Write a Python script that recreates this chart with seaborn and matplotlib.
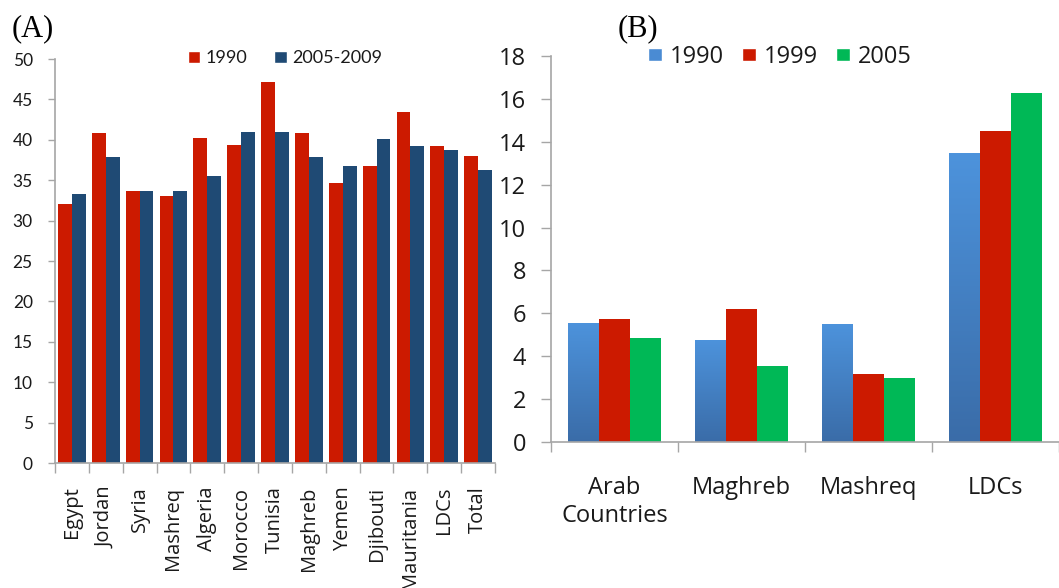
import numpy as np
import pandas as pd
import matplotlib
matplotlib.use("Agg")
import matplotlib.pyplot as plt
from matplotlib.patches import Patch
from matplotlib.colors import LinearSegmentedColormap
import seaborn as sns

# Panel A: share by country / region, two periods
countries = ["Egypt", "Jordan", "Syria", "Mashreq", "Algeria", "Morocco", "Tunisia",
             "Maghreb", "Yemen", "Djibouti", "Mauritania", "LDCs", "Total"]
share_1990 = [32.0, 40.8, 33.7, 33.1, 40.2, 39.3, 47.1, 40.8, 34.6, 36.8, 43.5, 39.2, 38.0]
share_2005_2009 = [33.3, 37.9, 33.7, 33.7, 35.5, 41.0, 41.0, 37.9, 36.7, 40.1, 39.2, 38.7, 36.3]
periods_a = ["1990", "2005-2009"]

# Panel B: regional values for three years
regions = ["Arab\nCountries", "Maghreb", "Mashreq", "LDCs"]
gap_1990 = [5.55, 4.75, 5.5, 13.45]
gap_1999 = [5.75, 6.2, 3.2, 14.5]
gap_2005 = [4.85, 3.55, 3.0, 16.25]
years_b = ["1990", "1999", "2005"]

RED = "#cc1a00"
NAVY = "#1f4a74"
BLUE_TOP = "#4d93dc"
BLUE_BOT = "#3a6ca8"
GREEN = "#00b856"
SPINE = "#a6a6a6"
TXT = "#1a1a1a"

sns.set_style("ticks")
plt.rcParams["font.family"] = ["Open Sans", "DejaVu Sans"]

df_a = pd.DataFrame({
    "country": countries * 2,
    "value": share_1990 + share_2005_2009,
    "period": [periods_a[0]] * len(countries) + [periods_a[1]] * len(countries),
})
df_b = pd.DataFrame({
    "region": regions * 3,
    "value": gap_1990 + gap_1999 + gap_2005,
    "year": sum([[y] * len(regions) for y in years_b], []),
})

W, H = 1059, 588
fig = plt.figure(figsize=(W / 100, H / 100), dpi=100)

# ---------------- Panel A ----------------
ax_a = fig.add_axes([55 / W, (H - 463) / H, 440 / W, 404 / H])
sns.barplot(data=df_a, x="country", y="value", hue="period", order=countries,
            hue_order=periods_a, palette=[RED, NAVY], saturation=1, width=0.82,
            linewidth=0, legend=False, ax=ax_a)
ax_a.set_xlim(-0.5, len(countries) - 0.5)
ax_a.set_ylim(0, 50)
ax_a.set_xlabel("")
ax_a.set_ylabel("")
ax_a.set_yticks(np.arange(0, 51, 5), labels=[str(v) for v in range(0, 51, 5)],
                fontsize=12.5, fontfamily="Lato", color=TXT)
ax_a.set_xticks(np.arange(len(countries) + 1) - 0.5, labels=[])
ax_a.set_xticks(np.arange(len(countries)), labels=countries, minor=True,
                rotation=90, ha="center", va="top", fontsize=14.5,
                fontfamily="Open Sans", color=TXT)
ax_a.tick_params(axis="y", length=5, width=1, color=SPINE, pad=11)
ax_a.tick_params(axis="x", which="major", length=7, width=1, color=SPINE)
ax_a.tick_params(axis="x", which="minor", length=0, pad=17)
for side in ("top", "right"):
    ax_a.spines[side].set_visible(False)
for side in ("left", "bottom"):
    ax_a.spines[side].set_color(SPINE)
    ax_a.spines[side].set_linewidth(1.2)

fig.legend(handles=[Patch(facecolor=RED), Patch(facecolor=NAVY)], labels=periods_a,
           loc="center", bbox_to_anchor=(285 / W, 1 - 58 / H), ncol=2, frameon=False,
           prop={"family": "Lato", "size": 13}, handlelength=0.67, handleheight=0.67,
           handletextpad=0.3, columnspacing=1.5, labelcolor=TXT)

# ---------------- Panel B ----------------
ax_b = fig.add_axes([551 / W, (H - 442.3) / H, 508 / W, 386.6 / H])
sns.barplot(data=df_b, x="region", y="value", hue="year", order=regions,
            hue_order=years_b, palette=["#4682c8", RED, GREEN], saturation=1,
            width=0.73, linewidth=0, legend=False, ax=ax_b)

# vertical shading on the 1990 bars
blue_cmap = LinearSegmentedColormap.from_list("bar_blue", [BLUE_BOT, BLUE_TOP])
grad = np.linspace(0, 1, 256).reshape(-1, 1)
for bar in ax_b.containers[0]:
    x0, w, h = bar.get_x(), bar.get_width(), bar.get_height()
    im = ax_b.imshow(grad, cmap=blue_cmap, origin="lower", aspect="auto",
                     extent=[x0, x0 + w, 0, h], zorder=bar.get_zorder() + 0.1)
    im.set_clip_path(bar)

ax_b.set_xlim(-0.5, -0.5 + 508 / 130.5)
ax_b.set_ylim(0, 18)
ax_b.set_xlabel("")
ax_b.set_ylabel("")
ax_b.set_yticks(np.arange(0, 19, 2), labels=[str(v) for v in range(0, 19, 2)],
                fontsize=17, fontfamily="Open Sans", color=TXT)
ax_b.set_xticks(np.arange(len(regions) + 1) - 0.5, labels=[])
ax_b.set_xticks(np.arange(len(regions)), labels=regions, minor=True,
                ha="center", va="top", fontsize=17, fontfamily="Open Sans",
                color=TXT, linespacing=1.22)
ax_b.tick_params(axis="y", length=7, width=1, color=SPINE, pad=11)
ax_b.tick_params(axis="x", which="major", length=7, width=1, color=SPINE)
ax_b.tick_params(axis="x", which="minor", length=0, pad=24)
for side in ("top", "right"):
    ax_b.spines[side].set_visible(False)
for side in ("left", "bottom"):
    ax_b.spines[side].set_color(SPINE)
    ax_b.spines[side].set_linewidth(1.2)

fig.legend(handles=[Patch(facecolor="#4a8bd3"), Patch(facecolor=RED), Patch(facecolor=GREEN)],
           labels=years_b, loc="center", bbox_to_anchor=(780 / W, 1 - 57 / H), ncol=3,
           frameon=False, prop={"family": "Open Sans", "size": 17}, handlelength=0.6,
           handleheight=0.5, handletextpad=0.34, columnspacing=0.75, labelcolor=TXT)

# panel letters
fig.text(12 / W, 1 - 29 / H, "(A)", fontsize=22, fontfamily="Liberation Serif",
         va="center", ha="left", color="#000000")
fig.text(618 / W, 1 - 29 / H, "(B)", fontsize=22, fontfamily="Liberation Serif",
         va="center", ha="left", color="#000000")

fig.savefig("out.png", dpi=100)
